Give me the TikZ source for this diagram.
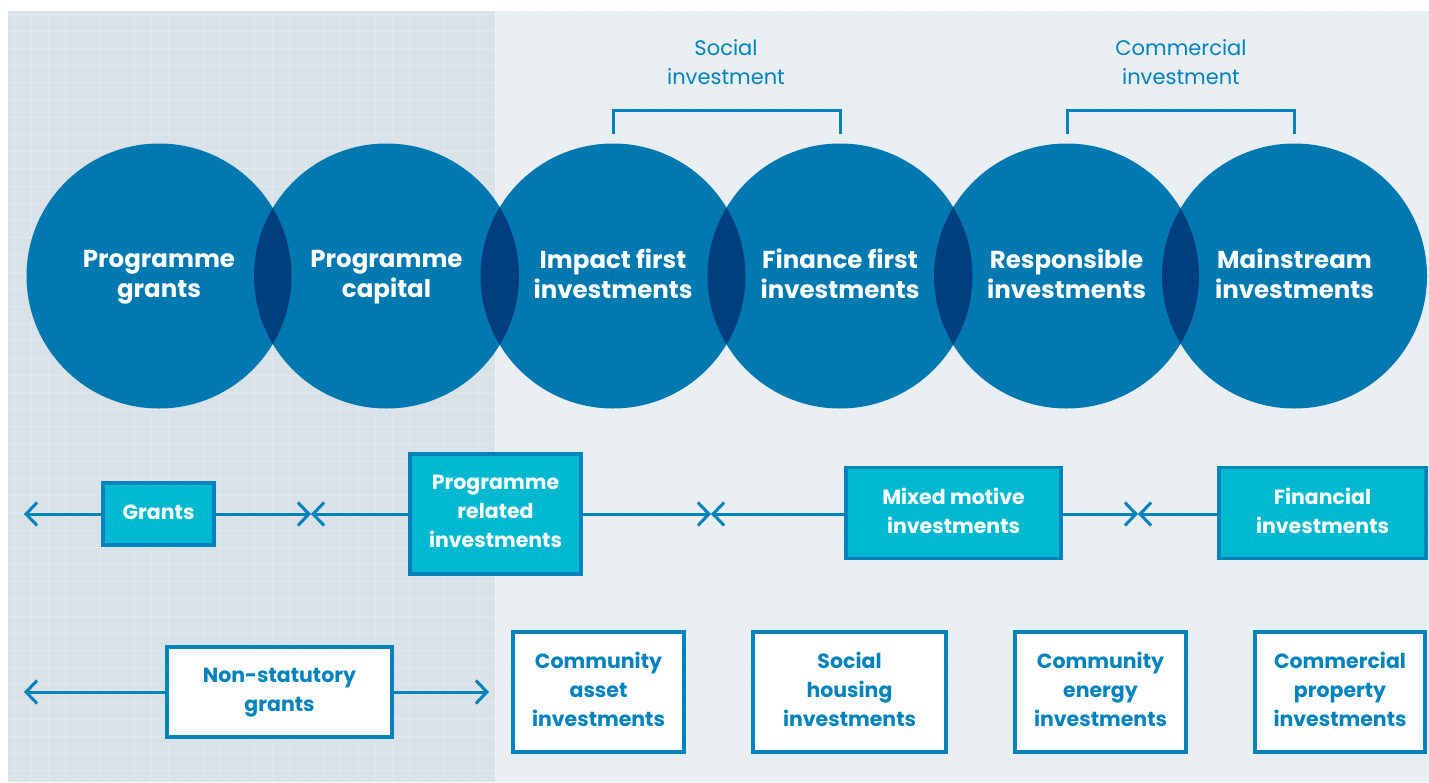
\documentclass[tikz,border=0pt]{standalone}
\usepackage{fontspec}
\setmainfont{Poppins}
\usetikzlibrary{arrows.meta}

\definecolor{circblue}{RGB}{0,121,176}
\definecolor{lensblue}{RGB}{0,63,127}
\definecolor{boxcyan}{RGB}{0,185,208}
\definecolor{lineblue}{RGB}{0,131,189}
\definecolor{panelleft}{RGB}{217,226,233}
\definecolor{panelright}{RGB}{232,238,242}

\tikzset{
  bubble/.style={circle, fill=circblue, minimum size=265pt, inner sep=0pt,
    text=white, align=center, text depth=4.5pt, font=\fontsize{24.5}{30}\selectfont\bfseries},
  lens/.style={fill=lensblue},
  filledbox/.style={draw=lineblue, line width=3.5pt, fill=boxcyan, text=white,
    align=center, inner sep=0pt, text depth=4.5pt, font=\fontsize{20.5}{29}\selectfont\bfseries},
  whitebox/.style={draw=lineblue, line width=3.5pt, fill=white, text=lineblue,
    align=center, inner sep=0pt, text depth=4.5pt, font=\fontsize{20.5}{29}\selectfont\bfseries},
  arr/.style={draw=lineblue, line width=3pt,
    -{Straight Barb[length=11pt,width=23pt,line width=3pt]}},
  bracket/.style={draw=lineblue, line width=3pt},
  toplabel/.style={text=lineblue, align=center, font=\fontsize{21}{29}\selectfont}
}

\begin{document}
\begin{tikzpicture}[x=1pt,y=-1pt]
\useasboundingbox (0,0) rectangle (1429,782);

% background panels and grid
\fill[white] (0,0) rectangle (1429,782);
\fill[panelleft] (8,11) rectangle (495,782);
\fill[panelright] (495,11) rectangle (1429,782);
\foreach \x in {0,...,82} {
  \draw[white, opacity=0.2, line width=1pt] (14+17.2*\x,11) -- (14+17.2*\x,782);
}
\foreach \y in {0,...,44} {
  \draw[white, opacity=0.2, line width=1pt] (8,14+17.2*\y) -- (1429,14+17.2*\y);
}

% circles
\node[bubble] (c1) at (159,276) {Programme\\grants};
\node[bubble] (c2) at (386.5,276) {Programme\\capital};
\node[bubble] (c3) at (613,276) {Impact first\\investments};
\node[bubble] (c4) at (840,276) {Finance first\\investments};
\node[bubble] (c5) at (1066.5,276) {Responsible\\investments};
\node[bubble] (c6) at (1294.5,276) {Mainstream\\investments};

% overlaps
\foreach \a/\b in {c1/c2,c2/c3,c3/c4,c4/c5,c5/c6} {
  \begin{scope}
    \clip (\a.center) circle (132.5);
    \fill[lens] (\b.center) circle (132.5);
  \end{scope}
}

% brackets
\node[toplabel] (soc) at (726,62) {Social\\investment};
\node[toplabel] (com) at (1181,62) {Commercial\\investment};
\draw[bracket] (613,134) -- (613,110) -- (840,110) -- (840,134);
\draw[bracket] (1067,134) -- (1067,110) -- (1294,110) -- (1294,134);

% middle row
\node[filledbox, minimum width=111pt, minimum height=62pt] (grants) at (158.5,514) {Grants};
\node[filledbox, minimum width=171pt, minimum height=120pt] (pri) at (495.5,514) {Programme\\related\\investments};
\node[filledbox, minimum width=215pt, minimum height=91pt] (mixed) at (953.5,513) {Mixed motive\\investments};
\node[filledbox, minimum width=207pt, minimum height=91pt] (fin) at (1322.5,513) {Financial\\investments};

\coordinate (left2) at (24,514);
\coordinate (meet1) at (311,514);
\coordinate (meet2) at (711,514);
\coordinate (meet3) at (1138,514);
\draw[arr] (grants) -- (left2);
\draw[arr] (grants) -- (meet1);
\draw[arr] (pri) -- (meet1);
\draw[arr] (pri) -- (meet2);
\draw[arr] (mixed.west |- meet2) -- (meet2);
\draw[arr] (mixed.east |- meet3) -- (meet3);
\draw[arr] (fin.west |- meet3) -- (meet3);

% bottom row
\node[whitebox, minimum width=225pt, minimum height=90pt] (nsg) at (279.5,692) {Non-statutory\\grants};
\node[whitebox, minimum width=171pt, minimum height=120pt] (cai) at (598.5,692) {Community\\asset\\investments};
\node[whitebox, minimum width=193pt, minimum height=120pt] (shi) at (849.5,692) {Social\\housing\\investments};
\node[whitebox, minimum width=171pt, minimum height=120pt] (cei) at (1100.5,692) {Community\\energy\\investments};
\node[whitebox, minimum width=170pt, minimum height=120pt] (cpi) at (1340,692) {Commercial\\property\\investments};

\coordinate (left3) at (24,692);
\coordinate (right3) at (489,692);
\draw[arr] (nsg) -- (left3);
\draw[arr] (nsg) -- (right3);

\end{tikzpicture}
\end{document}
